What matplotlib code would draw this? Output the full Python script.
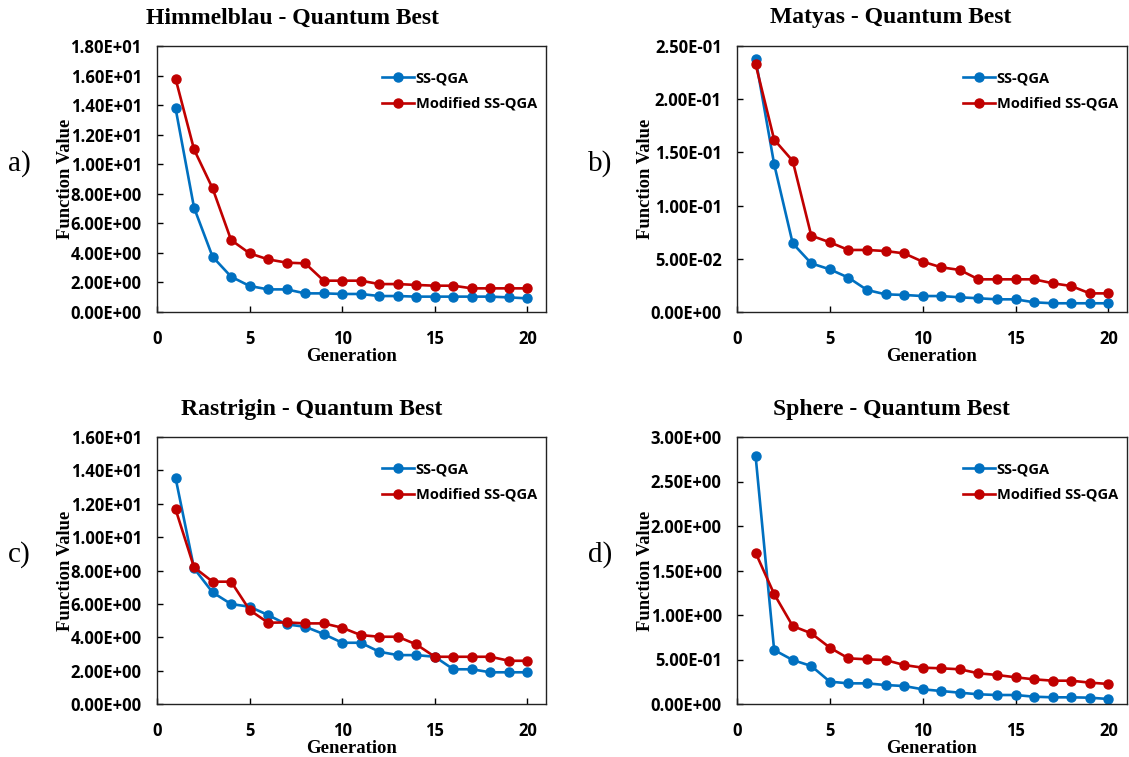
import matplotlib
matplotlib.use('Agg')
import matplotlib.pyplot as plt
from matplotlib.ticker import FuncFormatter

# Dados (leitura aproximada do gráfico original)
generation = list(range(1, 21))

himmel_ss = [13.8, 7.06, 3.74, 2.39, 1.76, 1.53, 1.53, 1.26, 1.26, 1.22,
             1.22, 1.08, 1.08, 1.04, 1.04, 1.04, 1.04, 1.04, 0.99, 0.92]
himmel_mod = [15.8, 11.0, 8.37, 4.87, 3.97, 3.56, 3.34, 3.29, 2.12, 2.12,
              2.12, 1.89, 1.89, 1.83, 1.78, 1.78, 1.60, 1.60, 1.60, 1.60]

matyas_ss = [0.238, 0.139, 0.0645, 0.0457, 0.0401, 0.0323, 0.0207, 0.0166, 0.0160, 0.0150,
             0.0150, 0.0138, 0.0129, 0.0119, 0.0119, 0.0091, 0.0082, 0.0082, 0.0082, 0.0082]
matyas_mod = [0.233, 0.162, 0.142, 0.0717, 0.0655, 0.0583, 0.0583, 0.0573, 0.0551, 0.0473,
              0.0420, 0.0395, 0.0307, 0.0307, 0.0307, 0.0307, 0.0270, 0.0244, 0.0175, 0.0175]

rastr_ss = [13.56, 8.13, 6.69, 5.99, 5.83, 5.33, 4.77, 4.63, 4.19, 3.67,
            3.67, 3.13, 2.93, 2.93, 2.83, 2.08, 2.08, 1.90, 1.90, 1.90]
rastr_mod = [11.68, 8.19, 7.33, 7.33, 5.63, 4.87, 4.89, 4.83, 4.83, 4.57,
             4.13, 4.03, 4.03, 3.57, 2.83, 2.83, 2.83, 2.83, 2.59, 2.59]

sphere_ss = [2.79, 0.607, 0.494, 0.427, 0.251, 0.232, 0.232, 0.213, 0.202, 0.165,
             0.146, 0.127, 0.109, 0.101, 0.101, 0.082, 0.075, 0.075, 0.071, 0.056]
sphere_mod = [1.70, 1.236, 0.876, 0.794, 0.633, 0.513, 0.502, 0.494, 0.438, 0.408,
              0.401, 0.390, 0.345, 0.326, 0.300, 0.277, 0.262, 0.262, 0.240, 0.225]

titles = ['Himmelblau - Quantum Best', 'Matyas - Quantum Best',
          'Rastrigin - Quantum Best', 'Sphere - Quantum Best']
panel_labels = ['a)', 'b)', 'c)', 'd)']
y_max = [18, 0.25, 16, 3.0]
y_step = [2, 0.05, 2, 0.5]

W, H = 1129, 757
BLUE = '#0070C0'
RED = '#C00000'
SERIF = 'Liberation Serif'

plt.rcParams['font.family'] = ['Open Sans', 'DejaVu Sans']
plt.rcParams['font.weight'] = 'bold'

fig = plt.figure(figsize=(W / 100, H / 100), dpi=100)


def box(left, top, right, bottom):
    # converte pixels para coordenadas da figura
    return [left / W, 1 - bottom / H, (right - left) / W, (bottom - top) / H]


# posições dos eixos em pixels (esq, topo, dir, base) e centro dos títulos
positions = [(157, 46, 546, 312), (737, 46, 1127, 312),
             (157, 437, 546, 704), (737, 437, 1127, 704)]
title_cx = [292, 891, 312, 891]
series = [(himmel_ss, himmel_mod), (matyas_ss, matyas_mod),
          (rastr_ss, rastr_mod), (sphere_ss, sphere_mod)]

for i, (pos, (ss, mod)) in enumerate(zip(positions, series)):
    ax = fig.add_axes(box(*pos))
    ax.plot(generation, ss, '-o', color=BLUE, lw=1.9, ms=6.5, label='SS-QGA')
    ax.plot(generation, mod, '-o', color=RED, lw=1.9, ms=6.5, label='Modified SS-QGA')

    ax.set_xlim(0, 21)
    ax.set_ylim(0, y_max[i])
    ax.set_xticks([0, 5, 10, 15, 20])
    n = round(y_max[i] / y_step[i])
    ax.set_yticks([k * y_step[i] for k in range(n + 1)])
    ax.yaxis.set_major_formatter(FuncFormatter(lambda v, p: '{:.2E}'.format(v)))
    ax.tick_params(direction='in', length=4, width=1, labelsize=12)
    ax.tick_params(axis='y', pad=11)
    ax.tick_params(axis='x', pad=13)
    for s in ax.spines.values():
        s.set_linewidth(1.0)
        s.set_color('#222222')

    ax.set_xlabel('Generation', family=SERIF, weight='bold', fontsize=13.5, labelpad=0)
    ax.set_ylabel('Function Value', family=SERIF, weight='bold', fontsize=13.3)
    ax.yaxis.set_label_coords(-0.213, 0.5)

    ax.legend(loc='upper right', bbox_to_anchor=(1.01, 0.955), frameon=False,
              prop={'weight': 'bold', 'size': 10.5},
              handlelength=2.2, handletextpad=0.1, labelspacing=0.8)

    left, top, right, bottom = pos
    fig.text(title_cx[i] / W, 1 - (top - 28) / H, titles[i], family=SERIF, weight='bold',
             fontsize=17, ha='center', va='center')
    fig.text((left - 149) / W, 1 - (top + 118) / H, panel_labels[i], family=SERIF,
             weight='normal', fontsize=21, ha='left', va='center')

fig.savefig('out.png', dpi=100)
